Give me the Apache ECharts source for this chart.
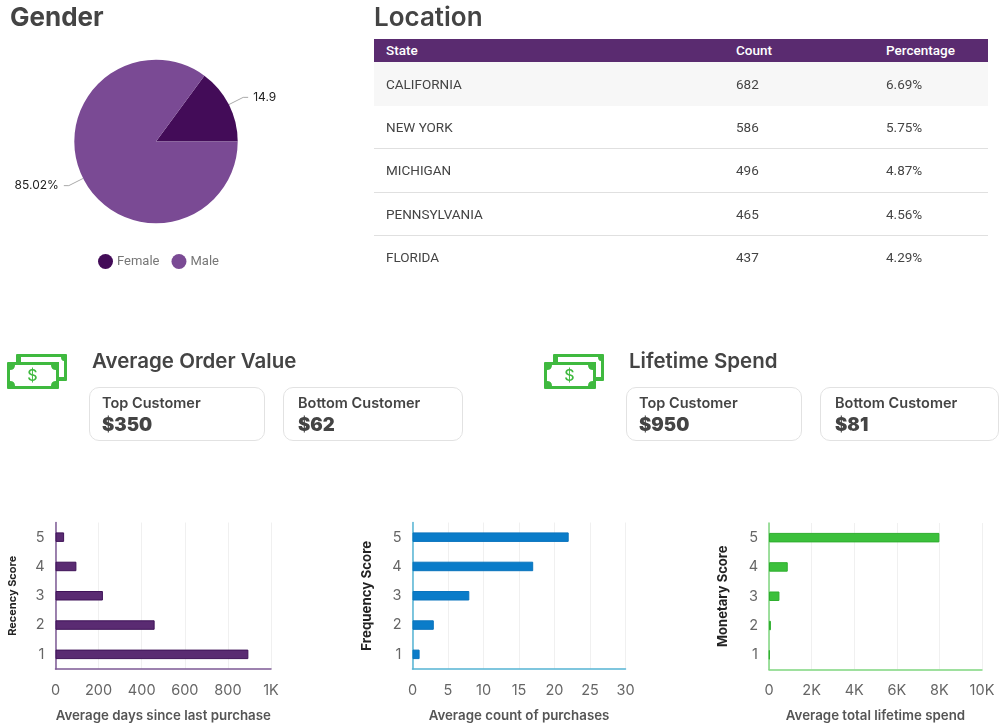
<!DOCTYPE html>
<html>
<head>
<meta charset="utf-8">
<title>Customer summary</title>
<script src="https://cdn.jsdelivr.net/npm/echarts@6/dist/echarts.min.js"></script>
<style>
html, body { margin: 0; padding: 0; background: #fff; }
#page { position: relative; width: 1000px; height: 724px; overflow: hidden; font-family: Inter, sans-serif; color: #444; }
#chart { position: absolute; left: 0; top: 0; width: 1000px; height: 724px; }
.abs { position: absolute; white-space: nowrap; }
.heading { font-size: 26px; font-weight: 700; line-height: 30px; }
.subheading { font-size: 20.5px; font-weight: 600; line-height: 24px; }
.card { position: absolute; top: 387px; height: 52px; border: 1px solid #e2e2e2; border-radius: 10px; box-sizing: content-box; background: #fff; }
.card .label { position: absolute; left: 12px; top: 6px; font-size: 14.5px; font-weight: 600; line-height: 18px; white-space: nowrap; }
.card .value { position: absolute; left: 12px; top: 23px; font-size: 18.5px; font-weight: 900; line-height: 26px; }
#table { position: absolute; left: 374px; top: 39px; width: 614px; font-family: Roboto, sans-serif; font-size: 13.5px; }
#table .row { position: relative; height: 43.5px; border-bottom: 1px solid #e0e0e0; box-sizing: border-box; }
#table .row:last-child { border-bottom: none; }
#table .head + .row { background: #f7f7f7; border-bottom: none; }
#table .head { position: relative; height: 23px; background: #5a2b70; color: #fff; font-weight: 500; }
#table span { position: absolute; line-height: 43px; }
#table .head + .row span { line-height: 45px; }
#table .head span { line-height: 23px; }
.money { position: absolute; top: 353px; width: 60px; height: 37px; }
</style>
</head>
<body>
<div id="page">
  <div id="chart"></div>
  <div class="abs heading" style="left:10px;top:2px">Gender</div>
  <div class="abs heading" style="left:374px;top:2px;font-weight:600">Location</div>
  <div id="table"></div>
  <div id="cards"></div>
</div>
<script>
// Gender pie
const genderNames = ['Female', 'Male'];
const genderValues = [14.9, 85.02];
const genderLabels = ['14.9', '85.02%'];

// Location table
const tableHeaders = ['State', 'Count', 'Percentage'];
const states = ['CALIFORNIA', 'NEW YORK', 'MICHIGAN', 'PENNSYLVANIA', 'FLORIDA'];
const stateCounts = ['682', '586', '496', '465', '437'];
const statePercents = ['6.69%', '5.75%', '4.87%', '4.56%', '4.29%'];

// Customer value cards
const cardGroups = ['Average Order Value', 'Lifetime Spend'];
const cardLabels = ['Top Customer', 'Bottom Customer'];
const orderValues = ['$350', '$62'];
const lifetimeValues = ['$950', '$81'];

// RFM bars, listed from score 1 up to score 5
const scores = ['1', '2', '3', '4', '5'];
const recencyDays = [895, 460, 220, 97, 40];
const frequencyCounts = [1, 3, 8, 17, 22];
const monetarySpend = [30, 90, 490, 880, 8000];

// table
const colX = [12, 362, 512];
const tableEl = document.getElementById('table');
let tableHtml = '<div class="head">' + tableHeaders.map((h, i) => `<span style="left:${colX[i]}px">${h}</span>`).join('') + '</div>';
states.forEach((s, i) => {
    const cells = [s, stateCounts[i], statePercents[i]];
    tableHtml += '<div class="row">' + cells.map((c, j) => `<span style="left:${colX[j]}px">${c}</span>`).join('') + '</div>';
});
tableEl.innerHTML = tableHtml;

// cards and money icons
function moneyIcon(left) {
    return `<svg class="money" style="left:${left}px" viewBox="0 0 60 37">
      <rect x="9" y="1" width="51" height="27" rx="1" fill="#3fb93f"/>
      <path d="M14 4H54Q54 8 57 8V24H52V9H14Z" fill="#fff"/>
      <rect x="0" y="9" width="52" height="27" rx="1" fill="#3fb93f"/>
      <path d="M8 12H44Q44 17 49 17V28Q44 28 44 33H8Q8 28 3 28V17Q8 17 8 12Z" fill="#fff"/>
      <text x="25.5" y="28" text-anchor="middle" font-size="16" font-weight="500" font-family="Inter" fill="#3fb93f">$</text>
    </svg>`;
}
const cardBoxes = [[[89, 174, 12], [283, 178, 14]], [[626, 174, 12], [820, 177, 14]]];
const cardValues = [orderValues, lifetimeValues];
const titleX = [92, 629];
const iconX = [7, 544];
let cardHtml = '';
cardGroups.forEach((g, i) => {
    cardHtml += moneyIcon(iconX[i]);
    cardHtml += `<div class="abs subheading" style="left:${titleX[i]}px;top:349px">${g}</div>`;
    cardLabels.forEach((l, j) => {
        const box = cardBoxes[i][j];
        cardHtml += `<div class="card" style="left:${box[0]}px;width:${box[1]}px"><div class="label" style="left:${box[2]}px">${l}</div><div class="value" style="left:${box[2]}px">${cardValues[i][j]}</div></div>`;
    });
});
document.getElementById('cards').innerHTML = cardHtml;

// charts
const chart = echarts.init(document.getElementById('chart'));

const grids = [
    { left: 55.5, top: 522.5, width: 215.5, height: 146.5 },
    { left: 412.5, top: 522.5, width: 213, height: 146.5 },
    { left: 769, top: 523, width: 213, height: 146.5 }
];
const axisColors = ['#7d5a95', '#55b4d4', '#7fd67f'];
const barColors = ['#5a2b72', '#0a7cc9', '#3cc03c'];
const barBorders = ['#3f1358', '#0a74bd', '#2fae2f'];
const xNames = ['Average days since last purchase', 'Average count of purchases', 'Average total lifetime spend'];
const yNames = ['Recency Score', 'Frequency Score', 'Monetary Score'];
const xMax = [1000, 30, 10000];
const xInterval = [200, 5, 2000];
const yNameGap = [37, 39, 39];
const yNameSize = [11, 13.3, 13];
const barData = [recencyDays, frequencyCounts, monetarySpend];

function kFormat(v) {
    return v >= 1000 ? (v / 1000) + 'K' : String(v);
}

chart.setOption({
    animation: false,
    textStyle: { fontFamily: 'Inter' },
    grid: grids,
    legend: {
        data: genderNames,
        left: 93,
        top: 249,
        icon: 'circle',
        itemWidth: 15,
        itemHeight: 15,
        itemGap: 12,
        textStyle: { fontFamily: 'Roboto', fontSize: 13, color: '#777', padding: [0, 0, 0, -1] }
    },
    xAxis: grids.map((g, i) => ({
        type: 'value',
        gridIndex: i,
        min: 0,
        max: xMax[i],
        interval: xInterval[i],
        name: xNames[i],
        nameLocation: 'middle',
        nameGap: 40,
        nameTextStyle: { fontSize: 13.3, fontWeight: 600, color: '#555' },
        axisLine: { show: true, lineStyle: { color: axisColors[i], width: 1.5 } },
        axisTick: { show: false },
        axisLabel: { fontSize: 14.5, color: '#666', margin: 14, formatter: kFormat },
        splitLine: { show: true, lineStyle: { color: '#f0f0f0', width: 1 } }
    })),
    yAxis: grids.map((g, i) => ({
        type: 'category',
        gridIndex: i,
        data: scores,
        name: yNames[i],
        nameLocation: 'middle',
        nameGap: yNameGap[i],
        nameRotate: 90,
        nameTextStyle: { fontSize: yNameSize[i], fontWeight: 700, color: '#222' },
        axisLine: { show: true, onZero: false, lineStyle: { color: axisColors[i], width: 1.5 } },
        axisTick: { show: false },
        axisLabel: { fontSize: 14.5, color: '#666', margin: 11 },
        splitLine: { show: false }
    })),
    series: [
        {
            type: 'pie',
            center: [156, 141.5],
            radius: [0, 81.7],
            startAngle: 53.7,
            clockwise: true,
            label: {
                show: true,
                position: 'outside',
                fontSize: 12,
                color: '#222',
                formatter: p => genderLabels[p.dataIndex]
            },
            labelLine: { show: true, length: 16, length2: 5, lineStyle: { color: '#aaa', width: 1 } },
            itemStyle: { borderWidth: 0 },
            data: genderNames.map((n, i) => ({
                name: n,
                value: genderValues[i],
                itemStyle: { color: ['#430c58', '#7a4a94'][i] }
            }))
        }
    ].concat(grids.map((g, i) => ({
        type: 'bar',
        xAxisIndex: i,
        yAxisIndex: i,
        barWidth: 9.5,
        itemStyle: { color: barColors[i], borderColor: barBorders[i], borderWidth: 1 },
        data: barData[i]
    })))
});
</script>
</body>
</html>
